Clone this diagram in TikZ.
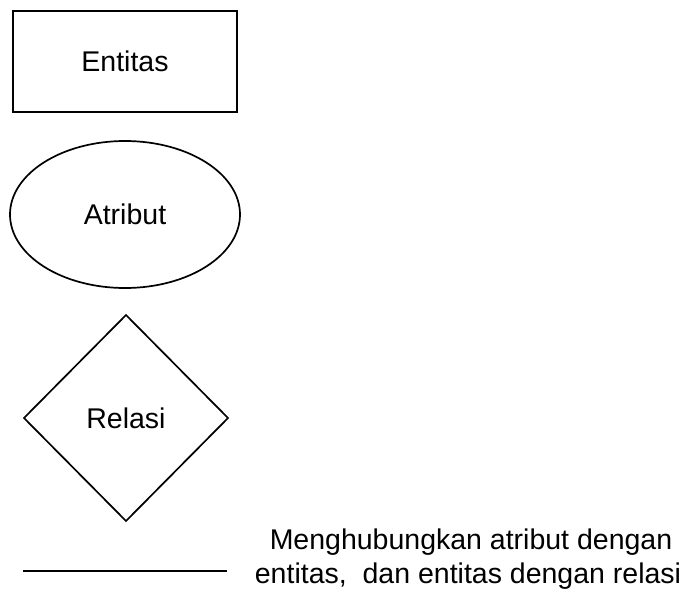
\documentclass[tikz,border=0pt]{standalone}
\usepackage{fontspec}
\setmainfont{Liberation Sans}
\usetikzlibrary{shapes.geometric}
\tikzset{
  shapeline/.style={draw=black, line width=1.7pt, inner sep=0pt, outer sep=0pt},
  lbl/.style={font=\fontsize{28.5}{34}\selectfont},
}
\begin{document}
\begin{tikzpicture}[x=1pt,y=-1pt]
\useasboundingbox (0,0) rectangle (685,590);
\node[shapeline, rectangle, minimum width=224pt, minimum height=101pt, lbl] (ent) at (125,61.5) {Entitas};
\node[shapeline, ellipse, minimum width=230pt, minimum height=147pt, lbl] (atr) at (125,214.5) {Atribut};
\node[shapeline, diamond, minimum width=204pt, minimum height=206pt, lbl] (rel) at (126,418) {Relasi};
\coordinate (la) at (23,571);
\coordinate (lb) at (227,571);
\draw[line width=1.7pt] (la) -- (lb);
\node[lbl, anchor=base, inner sep=0pt] (t1) at (471,549) {Menghubungkan atribut dengan};
\node[lbl, anchor=base, inner sep=0pt] (t2) at (468,583.5) {entitas,\ \ dan entitas dengan relasi};
\end{tikzpicture}
\end{document}
